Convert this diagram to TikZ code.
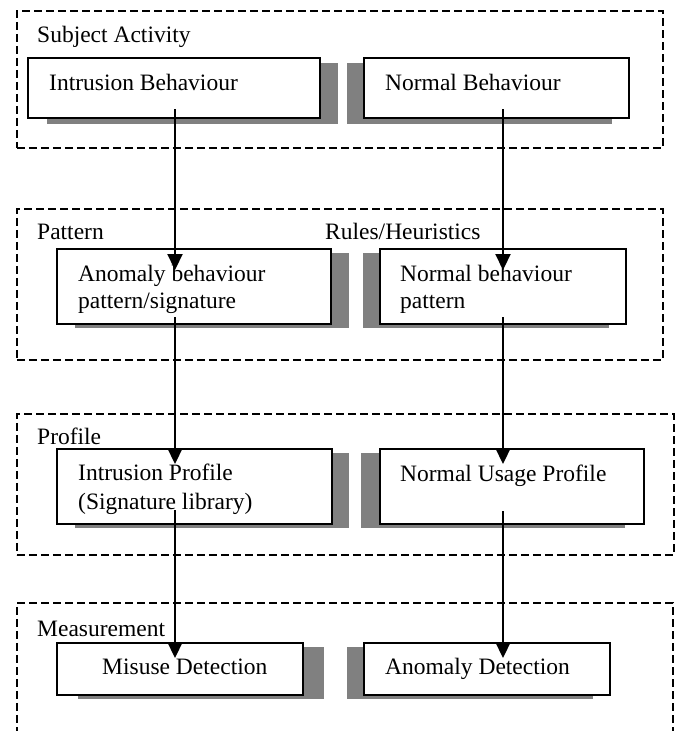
\documentclass[tikz,border=0pt]{standalone}
\usepackage{fontspec}
\setmainfont{Liberation Serif}
\usetikzlibrary{arrows.meta,calc}
\definecolor{shadowgray}{HTML}{808080}
\begin{document}
\begin{tikzpicture}[x=1pt,y=-1pt,
  grp/.style={draw, dash pattern=on 8pt off 4pt, line width=1.6pt, anchor=north west, inner sep=0pt},
  boxn/.style={draw, line width=2pt, fill=white, anchor=north west, inner sep=0pt},
  shd/.style={fill=shadowgray},
  txt/.style={anchor=base west, inner sep=0pt, font=\fontsize{23.5}{28}\selectfont},
  arr/.style={line width=2.2pt, -{Triangle[width=15pt,length=16pt]}}
]
\useasboundingbox (0,0) rectangle (678,731);
\clip (0,0) rectangle (678,731);

% dashed groups
\node[grp, minimum width=646pt, minimum height=137pt] (G1) at (16,10) {};
\node[grp, minimum width=646pt, minimum height=151pt] (G2) at (16,208) {};
\node[grp, minimum width=657pt, minimum height=141pt] (G3) at (16,413) {};
\node[grp, minimum width=656pt, minimum height=160pt] (G4) at (16,602) {};

% group labels
\node[txt] (tSA) at (37,42) {Subject Activity};
\node[txt] (tPat) at (37,239) {Pattern};
\node[txt] (tRH) at (325,239) {Rules/Heuristics};
\node[txt] (tPro) at (37,444) {Profile};
\node[txt] (tMea) at (37,636) {Measurement};

% shadows
\fill[shd] (47,63) rectangle (338,124);
\fill[shd] (347,63) rectangle (612,124);
\fill[shd] (75,253) rectangle (349,328);
\fill[shd] (363,253) rectangle (609,328);
\fill[shd] (75,453) rectangle (349,528);
\fill[shd] (361,453) rectangle (625,528);
\fill[shd] (78,647) rectangle (324,699);
\fill[shd] (347,647) rectangle (593,699);

% boxes
\node[boxn, minimum width=292pt, minimum height=60pt] (A) at (27,57) {};
\node[boxn, minimum width=265pt, minimum height=60pt] (B) at (363,57) {};
\node[boxn, minimum width=274pt, minimum height=75pt] (C) at (56,248) {};
\node[boxn, minimum width=246pt, minimum height=75pt] (D) at (379,248) {};
\node[boxn, minimum width=275pt, minimum height=75pt] (E) at (56,448) {};
\node[boxn, minimum width=264pt, minimum height=75pt] (F) at (379,448) {};
\node[boxn, minimum width=246pt, minimum height=52pt] (G) at (56,642) {};
\node[boxn, minimum width=246pt, minimum height=52pt] (H) at (363,642) {};

% box texts
\node[txt] (tA) at (49,90) {Intrusion Behaviour};
\node[txt] (tB) at (385,90) {Normal Behaviour};
\node[txt] (tC1) at (78,281) {Anomaly behaviour};
\node[txt] (tC2) at (78,308) {pattern/signature};
\node[txt] (tD1) at (400,281) {Normal behaviour};
\node[txt] (tD2) at (400,308) {pattern};
\node[txt] (tE1) at (78,480) {Intrusion Profile};
\node[txt] (tE2) at (78,509) {(Signature library)};
\node[txt] (tF) at (400,481) {Normal Usage Profile};
\node[txt] (tG) at (102,674) {Misuse Detection};
\node[txt] (tH) at (385,674) {Anomaly Detection};

% arrows
\draw[arr] ($(A.south west)+(148,-10)$) -- ($(C.north west)+(119,22)$);
\draw[arr] ($(B.south west)+(140,-10)$) -- ($(D.north west)+(124,22)$);
\draw[arr] ($(C.south west)+(119,-8)$) -- ($(E.north west)+(119,16)$);
\draw[arr] ($(D.south west)+(124,-8)$) -- ($(F.north west)+(124,16)$);
\draw[arr] ($(E.south west)+(119,-15)$) -- ($(G.north west)+(119,16)$);
\draw[arr] ($(F.south west)+(124,-14)$) -- ($(H.north west)+(140,16)$);
\end{tikzpicture}
\end{document}
